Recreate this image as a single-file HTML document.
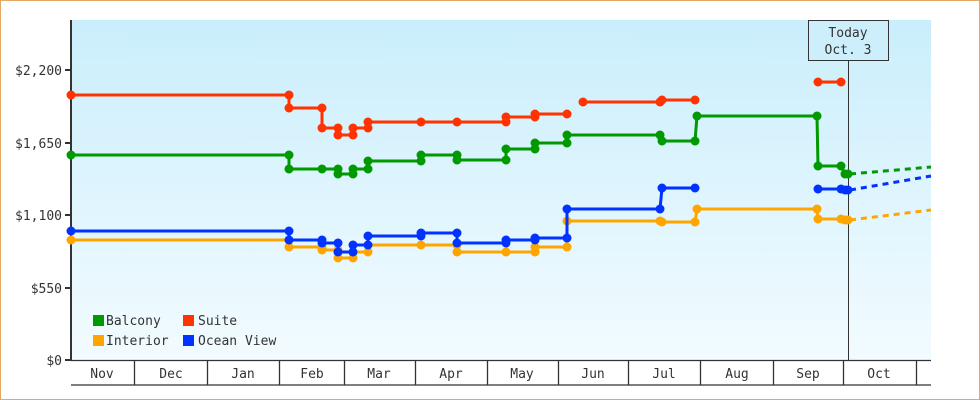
<!DOCTYPE html>
<html><head><meta charset="utf-8"><style>
html,body{margin:0;padding:0;background:#fff}
svg{display:block}
text{font-family:"DejaVu Sans Mono","Liberation Mono",monospace;font-size:13px;fill:#333}
</style></head><body>
<svg id="s" width="980" height="400" viewBox="0 0 980 400" xmlns="http://www.w3.org/2000/svg">
<defs><linearGradient id="g" x1="0" y1="0" x2="0" y2="1"><stop offset="0" stop-color="#caeefc"/><stop offset="1" stop-color="#f2fbff"/></linearGradient></defs>
<rect x="0.5" y="0.5" width="979" height="399" fill="#fff" stroke="#e3a865"/>
<rect x="71" y="20" width="860" height="340" fill="url(#g)"/>
<!-- y axis -->
<line x1="71" y1="20" x2="71" y2="361" stroke="#333" stroke-width="2"/>
<g stroke="#333" stroke-width="2">
<line x1="65" y1="70" x2="71" y2="70"/><line x1="65" y1="143" x2="71" y2="143"/><line x1="65" y1="215" x2="71" y2="215"/><line x1="65" y1="288" x2="71" y2="288"/><line x1="65" y1="360" x2="71" y2="360"/>
</g>
<g text-anchor="end">
<text x="62" y="75">$2,200</text><text x="62" y="148">$1,650</text><text x="62" y="220">$1,100</text><text x="62" y="293">$550</text><text x="62" y="365">$0</text>
</g>
<!-- x axis -->
<g stroke="#333" stroke-width="1.3">
<line x1="71" y1="360.5" x2="931" y2="360.5"/><line x1="71" y1="385" x2="931" y2="385"/>
<line x1="134.5" y1="360" x2="134.5" y2="385"/><line x1="207.5" y1="360" x2="207.5" y2="385"/><line x1="279.5" y1="360" x2="279.5" y2="385"/><line x1="344.5" y1="360" x2="344.5" y2="385"/><line x1="415.5" y1="360" x2="415.5" y2="385"/><line x1="487.5" y1="360" x2="487.5" y2="385"/><line x1="558.5" y1="360" x2="558.5" y2="385"/><line x1="628.5" y1="360" x2="628.5" y2="385"/><line x1="700.5" y1="360" x2="700.5" y2="385"/><line x1="773.5" y1="360" x2="773.5" y2="385"/><line x1="843.5" y1="360" x2="843.5" y2="385"/><line x1="916.5" y1="360" x2="916.5" y2="385"/>
</g>
<g text-anchor="middle">
<text x="102" y="378">Nov</text><text x="171" y="378">Dec</text><text x="243" y="378">Jan</text><text x="312" y="378">Feb</text><text x="379" y="378">Mar</text><text x="451" y="378">Apr</text><text x="522" y="378">May</text><text x="593" y="378">Jun</text><text x="664" y="378">Jul</text><text x="737" y="378">Aug</text><text x="808" y="378">Sep</text><text x="879" y="378">Oct</text>
</g>
<!-- today -->
<line x1="848.5" y1="60" x2="848.5" y2="360" stroke="#333" stroke-width="1"/>
<rect x="808.5" y="20.5" width="80" height="40" fill="#cdeffc" stroke="#333"/>
<text x="848" y="37" text-anchor="middle">Today</text>
<text x="848" y="54" text-anchor="middle">Oct. 3</text>
<!-- dotted forecasts -->
<g stroke-width="3" stroke-dasharray="6,5" fill="none">
<line x1="850" y1="174" x2="931" y2="167" stroke="#009900"/>
<line x1="850" y1="190" x2="931" y2="176" stroke="#0033ff"/>
<line x1="850" y1="220" x2="931" y2="210" stroke="#ffa500"/>
</g>
<g id="series"></g>
<!-- legend -->
<rect x="93" y="315" width="11" height="11" fill="#009900"/><text x="106" y="325">Balcony</text>
<rect x="183" y="315" width="11" height="11" fill="#ff3300"/><text x="198" y="325">Suite</text>
<rect x="93" y="335" width="11" height="11" fill="#ffa500"/><text x="106" y="345">Interior</text>
<rect x="183" y="335" width="11" height="11" fill="#0033ff"/><text x="198" y="345">Ocean View</text>
</svg>
<script>
var S=[
["#ffa500",["71,240 289,240 289,247 322,247 322,250 338,250 338,258 353,258 353,252 368,252 368,245 421,245 457,245 457,252 506,252 535,252 535,247 567,247 567,221 660,221 662,222 695,222 697,209 817,209 818,219 841,219 845,220 848,220"]],
["#0033ff",["71,231 289,231 289,240 322,240 322,243 338,243 338,252 353,252 353,245 368,245 368,236 421,236 421,233 457,233 457,243 506,243 506,240 535,240 535,238 567,238 567,209 660,209 662,188 695,188","818,189 841,189 845,190 848,190"]],
["#009900",["71,155 289,155 289,169 322,169 338,169 338,174 353,174 353,169 368,169 368,161 421,161 421,155 457,155 457,160 506,160 506,149 535,149 535,143 567,143 567,135 660,135 662,141 695,141 697,116 817,116 818,166 841,166 845,174 848,174"]],
["#ff3300",["71,95 289,95 289,108 322,108 322,128 338,128 338,135 353,135 353,128 368,128 368,122 421,122 457,122 506,122 506,117 535,117 535,114 567,114","583,102 660,102 662,100 695,100","818,82 841,82"]]
];
var g=document.getElementById("series"),ns="http://www.w3.org/2000/svg",h="";
S.forEach(function(s){s[1].forEach(function(p){
h+='<polyline points="'+p+'" fill="none" stroke="'+s[0]+'" stroke-width="3"/>';
p.split(" ").forEach(function(q){var c=q.split(",");h+='<circle cx="'+c[0]+'" cy="'+c[1]+'" r="4.5" fill="'+s[0]+'"/>';});
});});
g.innerHTML=h;
</script>
</body></html>
